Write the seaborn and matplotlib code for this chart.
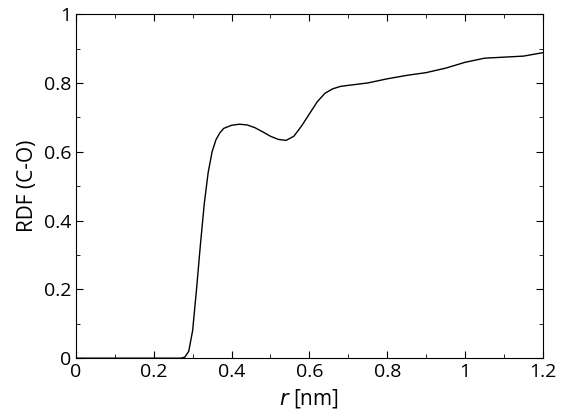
import matplotlib
matplotlib.use('Agg')
from matplotlib import pyplot as plt
import seaborn as sns
import pandas as pd
from matplotlib.ticker import MultipleLocator, AutoMinorLocator, FuncFormatter

sns.set_style('ticks')
plt.rcParams['font.family'] = ['Open Sans', 'DejaVu Sans']
plt.rcParams['text.color'] = 'black'
plt.rcParams['axes.labelcolor'] = 'black'
plt.rcParams['xtick.color'] = 'black'
plt.rcParams['ytick.color'] = 'black'

r_nm = [0.0, 0.1, 0.2, 0.27, 0.28, 0.29, 0.30, 0.31, 0.32, 0.33, 0.34, 0.35,
        0.36, 0.37, 0.38, 0.40, 0.42, 0.44, 0.46, 0.48, 0.50, 0.52, 0.54,
        0.56, 0.58, 0.60, 0.62, 0.64, 0.66, 0.68, 0.70, 0.75, 0.80, 0.85,
        0.90, 0.95, 1.00, 1.05, 1.10, 1.15, 1.20]
rdf = [0.0, 0.0, 0.0, 0.0, 0.003, 0.02, 0.08, 0.20, 0.33, 0.45, 0.54, 0.60,
       0.635, 0.655, 0.668, 0.677, 0.68, 0.678, 0.67, 0.658, 0.645, 0.636, 0.633,
       0.645, 0.675, 0.71, 0.745, 0.77, 0.783, 0.79, 0.793, 0.80, 0.812, 0.822,
       0.83, 0.843, 0.86, 0.872, 0.875, 0.878, 0.888]

df = pd.DataFrame({'r': r_nm, 'rdf': rdf})

fig = plt.figure(figsize=(5.62, 4.16), dpi=100)
ax = fig.add_axes([0.135, 0.139, 0.831, 0.827])
sns.lineplot(data=df, x='r', y='rdf', ax=ax, color='black', lw=1.0)

ax.set(xlim=[0, 1.2], ylim=[0, 1])
ax.xaxis.set_major_locator(MultipleLocator(0.2))
ax.yaxis.set_major_locator(MultipleLocator(0.2))
ax.xaxis.set_minor_locator(AutoMinorLocator(2))
ax.yaxis.set_minor_locator(AutoMinorLocator(2))
fmt = FuncFormatter(lambda v, pos: '{:g}'.format(round(v, 2)))
ax.xaxis.set_major_formatter(fmt)
ax.yaxis.set_major_formatter(fmt)
ax.tick_params(which='both', direction='in', top=True, right=True, labelsize=14)
ax.tick_params(which='major', length=5)
ax.tick_params(which='minor', length=3)
ax.set_xlabel(r'$r$ [nm]', fontsize=15)
ax.set_ylabel('RDF (C-O)', fontsize=15)
for s in ax.spines.values():
    s.set_linewidth(0.8)
    s.set_color('black')

fig.savefig('out.png', dpi=100)
